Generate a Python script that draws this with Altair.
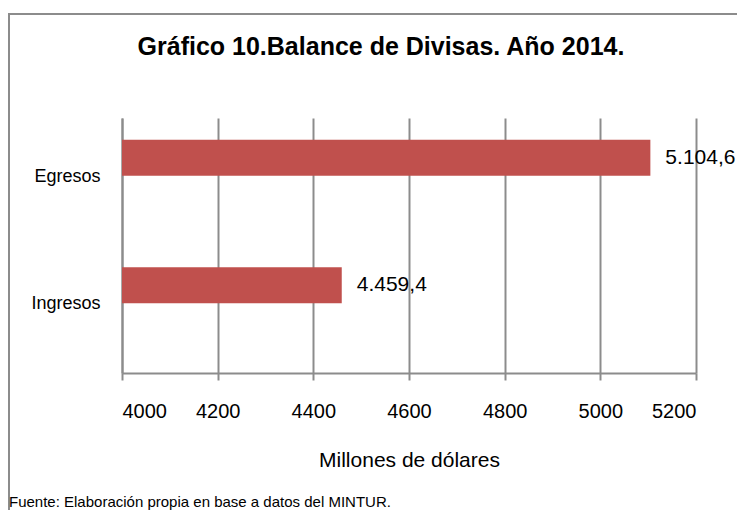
import altair as alt
import pandas as pd

categories = ["Egresos", "Ingresos"]
values = [5104.6, 4459.4]
labels = ["5.104,6", "4.459,4"]
x_ticks = [4000, 4200, 4400, 4600, 4800, 5000, 5200]
title_text = "Gráfico 10.Balance de Divisas. Año 2014."
footer_text = "Fuente: Elaboración propia en base a datos del MINTUR."

df = pd.DataFrame({"cat": categories, "val": values, "lab": labels})

FONT = "Liberation Sans"
GRID = "#8c8c8c"

base = alt.Chart(df)

bars = base.mark_bar(color="#c0504d", size=36, yOffset=-24).encode(
    x=alt.X("val:Q", scale=alt.Scale(domain=[4000, 5200], zero=False, clamp=True),
            axis=alt.Axis(values=x_ticks, format="d", title="Millones de dólares", grid=True,
                          gridColor=GRID, gridWidth=2, domainColor=GRID, domainWidth=2,
                          tickColor=GRID, tickSize=7, tickWidth=2,
                          labelFontSize=20, labelFont=FONT, labelColor="#000",
                          labelPadding=21, titleFontSize=21, titleFont=FONT,
                          titleFontWeight="normal", titleColor="#000", titlePadding=28)),
    y=alt.Y("cat:N", sort=categories, title=None,
            axis=alt.Axis(domainColor=GRID, domainWidth=2, ticks=False,
                          labelFontSize=18, labelFont=FONT, labelColor="#000",
                          labelPadding=22, labelOffset=-5)),
)

text = base.mark_text(align="left", baseline="middle", dx=15, dy=-24,
                      fontSize=21, font=FONT, color="#000").encode(
    x="val:Q",
    y=alt.Y("cat:N", sort=categories),
    text="lab:N",
)

footer = alt.Chart(pd.DataFrame({"t": [footer_text]})).mark_text(
    align="left", baseline="middle", fontSize=15, font=FONT, color="#000"
).encode(x=alt.value(-113), y=alt.value(384), text="t:N")

title = alt.Chart(pd.DataFrame({"t": [title_text]})).mark_text(
    align="center", baseline="middle", fontSize=25, font=FONT, fontWeight="bold", color="#000"
).encode(x=alt.value(259), y=alt.value(-71), text="t:N")

frame = alt.Chart(pd.DataFrame({"a": [0]})).mark_rect(
    fill=None, stroke="#8c8c8c", strokeWidth=2
).encode(x=alt.value(-113), x2=alt.value(640), y=alt.value(-104), y2=alt.value(420))

chart = alt.layer(frame, bars, text, title, footer).properties(
    width=574, height=255,
    autosize=alt.AutoSizeParams(type="none"),
    padding={"left": 114, "top": 110, "right": 41, "bottom": 137},
).configure_view(stroke=None).configure_axisX(labelAngle=0)

chart.save("out.html", embed_options={"renderer": "svg", "actions": False})
